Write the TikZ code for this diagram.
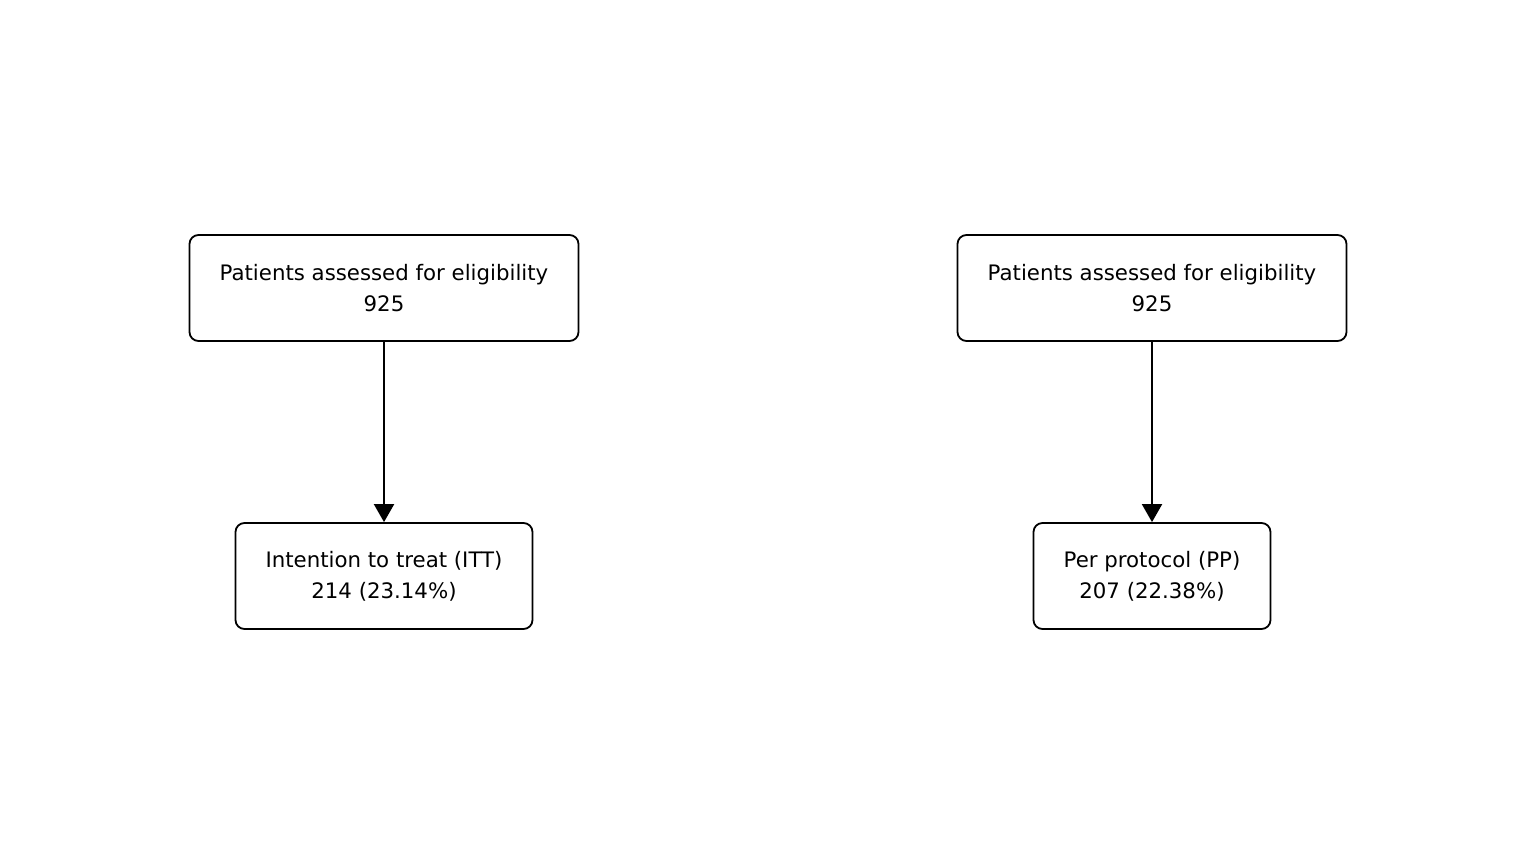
\documentclass[tikz,border=0pt]{standalone}
\usepackage{fontspec}
\setmainfont{DejaVu Sans}
\usetikzlibrary{arrows.meta}
\begin{document}
\begin{tikzpicture}[x=1pt,y=-1pt,
  box/.style={draw=black, line width=1.8pt, rounded corners=9pt, align=center,
    inner sep=0pt, font=\fontsize{21.3}{31}\selectfont, minimum height=106pt},
  link/.style={line width=2pt, -{Triangle[width=20pt,length=18pt]}}]
\useasboundingbox (0,0) rectangle (1536,865);
\node[box, minimum width=389pt] (a1) at (384,288) {Patients assessed for eligibility\\925};
\node[box, minimum width=297pt] (b1) at (384,576) {Intention to treat (ITT)\\214 (23.14\%)};
\node[box, minimum width=389pt] (a2) at (1152,288) {Patients assessed for eligibility\\925};
\node[box, minimum width=237pt] (b2) at (1152,576) {Per protocol (PP)\\207 (22.38\%)};
\draw[link] (a1) -- (b1);
\draw[link] (a2) -- (b2);
\end{tikzpicture}
\end{document}
